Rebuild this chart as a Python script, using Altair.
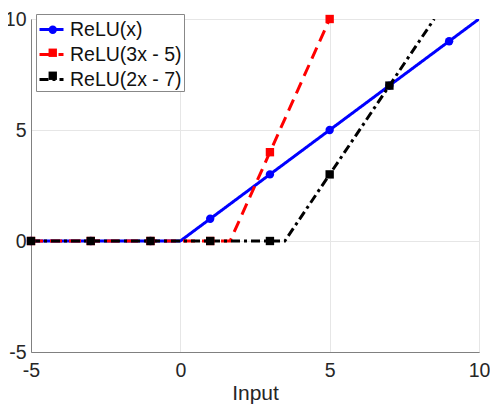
import altair as alt
import pandas as pd

series_names = ["ReLU(x)", "ReLU(3x - 5)", "ReLU(2x - 7)"]
series_colors = ["#0000ff", "#ff0000", "#000000"]
series_dash = [[1, 0], [12, 7], [9, 4, 3, 4]]
series_shapes = ["circle", "square", "square"]

relu_x_x = [-5, -3, -1, 0, 1, 3, 5, 7, 9, 10]
relu_x_y = [0, 0, 0, 0, 1, 3, 5, 7, 9, 10]
relu_x_marker = [1, 1, 1, 0, 1, 1, 1, 1, 1, 0]

relu_3x_x = [-5, -3, -1, 1, 1.667, 3, 5]
relu_3x_y = [0, 0, 0, 0, 0, 4, 10]
relu_3x_marker = [1, 1, 1, 1, 0, 1, 1]

relu_2x_x = [-5, -3, -1, 1, 3, 3.5, 5, 7, 8.5]
relu_2x_y = [0, 0, 0, 0, 0, 0, 3, 7, 10]
relu_2x_marker = [1, 1, 1, 1, 1, 0, 1, 1, 0]

tick_values = [-5, 0, 5, 10]

rows = []
for i, (name, xs, ys, ms) in enumerate([
    (series_names[0], relu_x_x, relu_x_y, relu_x_marker),
    (series_names[1], relu_3x_x, relu_3x_y, relu_3x_marker),
    (series_names[2], relu_2x_x, relu_2x_y, relu_2x_marker),
]):
    for j, (x, y, m) in enumerate(zip(xs, ys, ms)):
        rows.append({"series": name, "sidx": i, "idx": j, "x": x, "y": y, "marker": m})
df = pd.DataFrame(rows)

xscale = alt.Scale(domain=[-5, 10], nice=False, zero=False)
yscale = alt.Scale(domain=[-5, 10], nice=False, zero=False)
color_scale = alt.Scale(domain=series_names, range=series_colors)
dash_scale = alt.Scale(domain=series_names, range=series_dash)

LEG_X = 5
LEG_Y = -5

line_legend = alt.Legend(
    title=None,
    orient="none",
    legendX=LEG_X,
    legendY=LEG_Y,
    fillColor="white",
    strokeColor="#888888",
    padding=2,
    rowPadding=2,
    labelFont="Liberation Sans",
    labelFontSize=19.5,
    labelColor="#111111",
    labelOffset=5,
    symbolSize=576,
    symbolStrokeWidth=3,
    symbolType="stroke",
    zindex=0,
)

marker_legend = alt.Legend(
    title=None,
    orient="none",
    legendX=LEG_X + 5,
    legendY=LEG_Y + 4,
    padding=2,
    rowPadding=2,
    labelFont="Liberation Sans",
    labelFontSize=19.5,
    labelOpacity=0,
    labelExpr="' '",
    labelOffset=alt.ExprRef("-17.5"),
    symbolSize=70,
    symbolStrokeWidth=0,
    symbolFillColor=alt.ExprRef("scale('color', datum.value)"),
    symbolOpacity=1,
    zindex=1,
)

base = alt.Chart(df)

lines = base.mark_line(strokeWidth=3, clip=True).encode(
    x=alt.X("x:Q", scale=xscale, axis=alt.Axis(
        title="Input", values=tick_values, labelExpr="'' + datum.value")),
    y=alt.Y("y:Q", scale=yscale, axis=alt.Axis(
        title=None, values=tick_values, labelExpr="'' + datum.value", labelPadding=5)),
    color=alt.Color("series:N", scale=color_scale, legend=line_legend),
    strokeDash=alt.StrokeDash("series:N", scale=dash_scale, legend=line_legend),
    detail="sidx:O",
    order="idx:Q",
)

points = base.transform_filter("datum.marker == 1").mark_point(filled=True, opacity=1, size=70).encode(
    x=alt.X("x:Q", scale=xscale),
    y=alt.Y("y:Q", scale=yscale),
    color=alt.Color("series:N", scale=color_scale, legend=None),
    shape=alt.Shape("series:N", sort="descending",
                    scale=alt.Scale(range=series_shapes), legend=marker_legend),
)

chart = alt.layer(lines, points).properties(
    width=448,
    height=333,
    autosize=alt.AutoSizeParams(type="none"),
    padding={"left": 23, "top": 11, "right": 11, "bottom": 54},
).configure_view(
    stroke="#808080", strokeWidth=1
).configure_axis(
    labelFont="Liberation Sans",
    titleFont="Liberation Sans",
    labelFontSize=19.5,
    titleFontSize=21,
    titleFontWeight="normal",
    labelColor="#262626",
    titleColor="#262626",
    domainColor="#808080",
    ticks=False,
    gridColor="#e6e6e6",
    labelPadding=9,
    titlePadding=3,
    labelFlush=False,
)

chart.save("out.html", embed_options={"renderer": "svg", "actions": False})
